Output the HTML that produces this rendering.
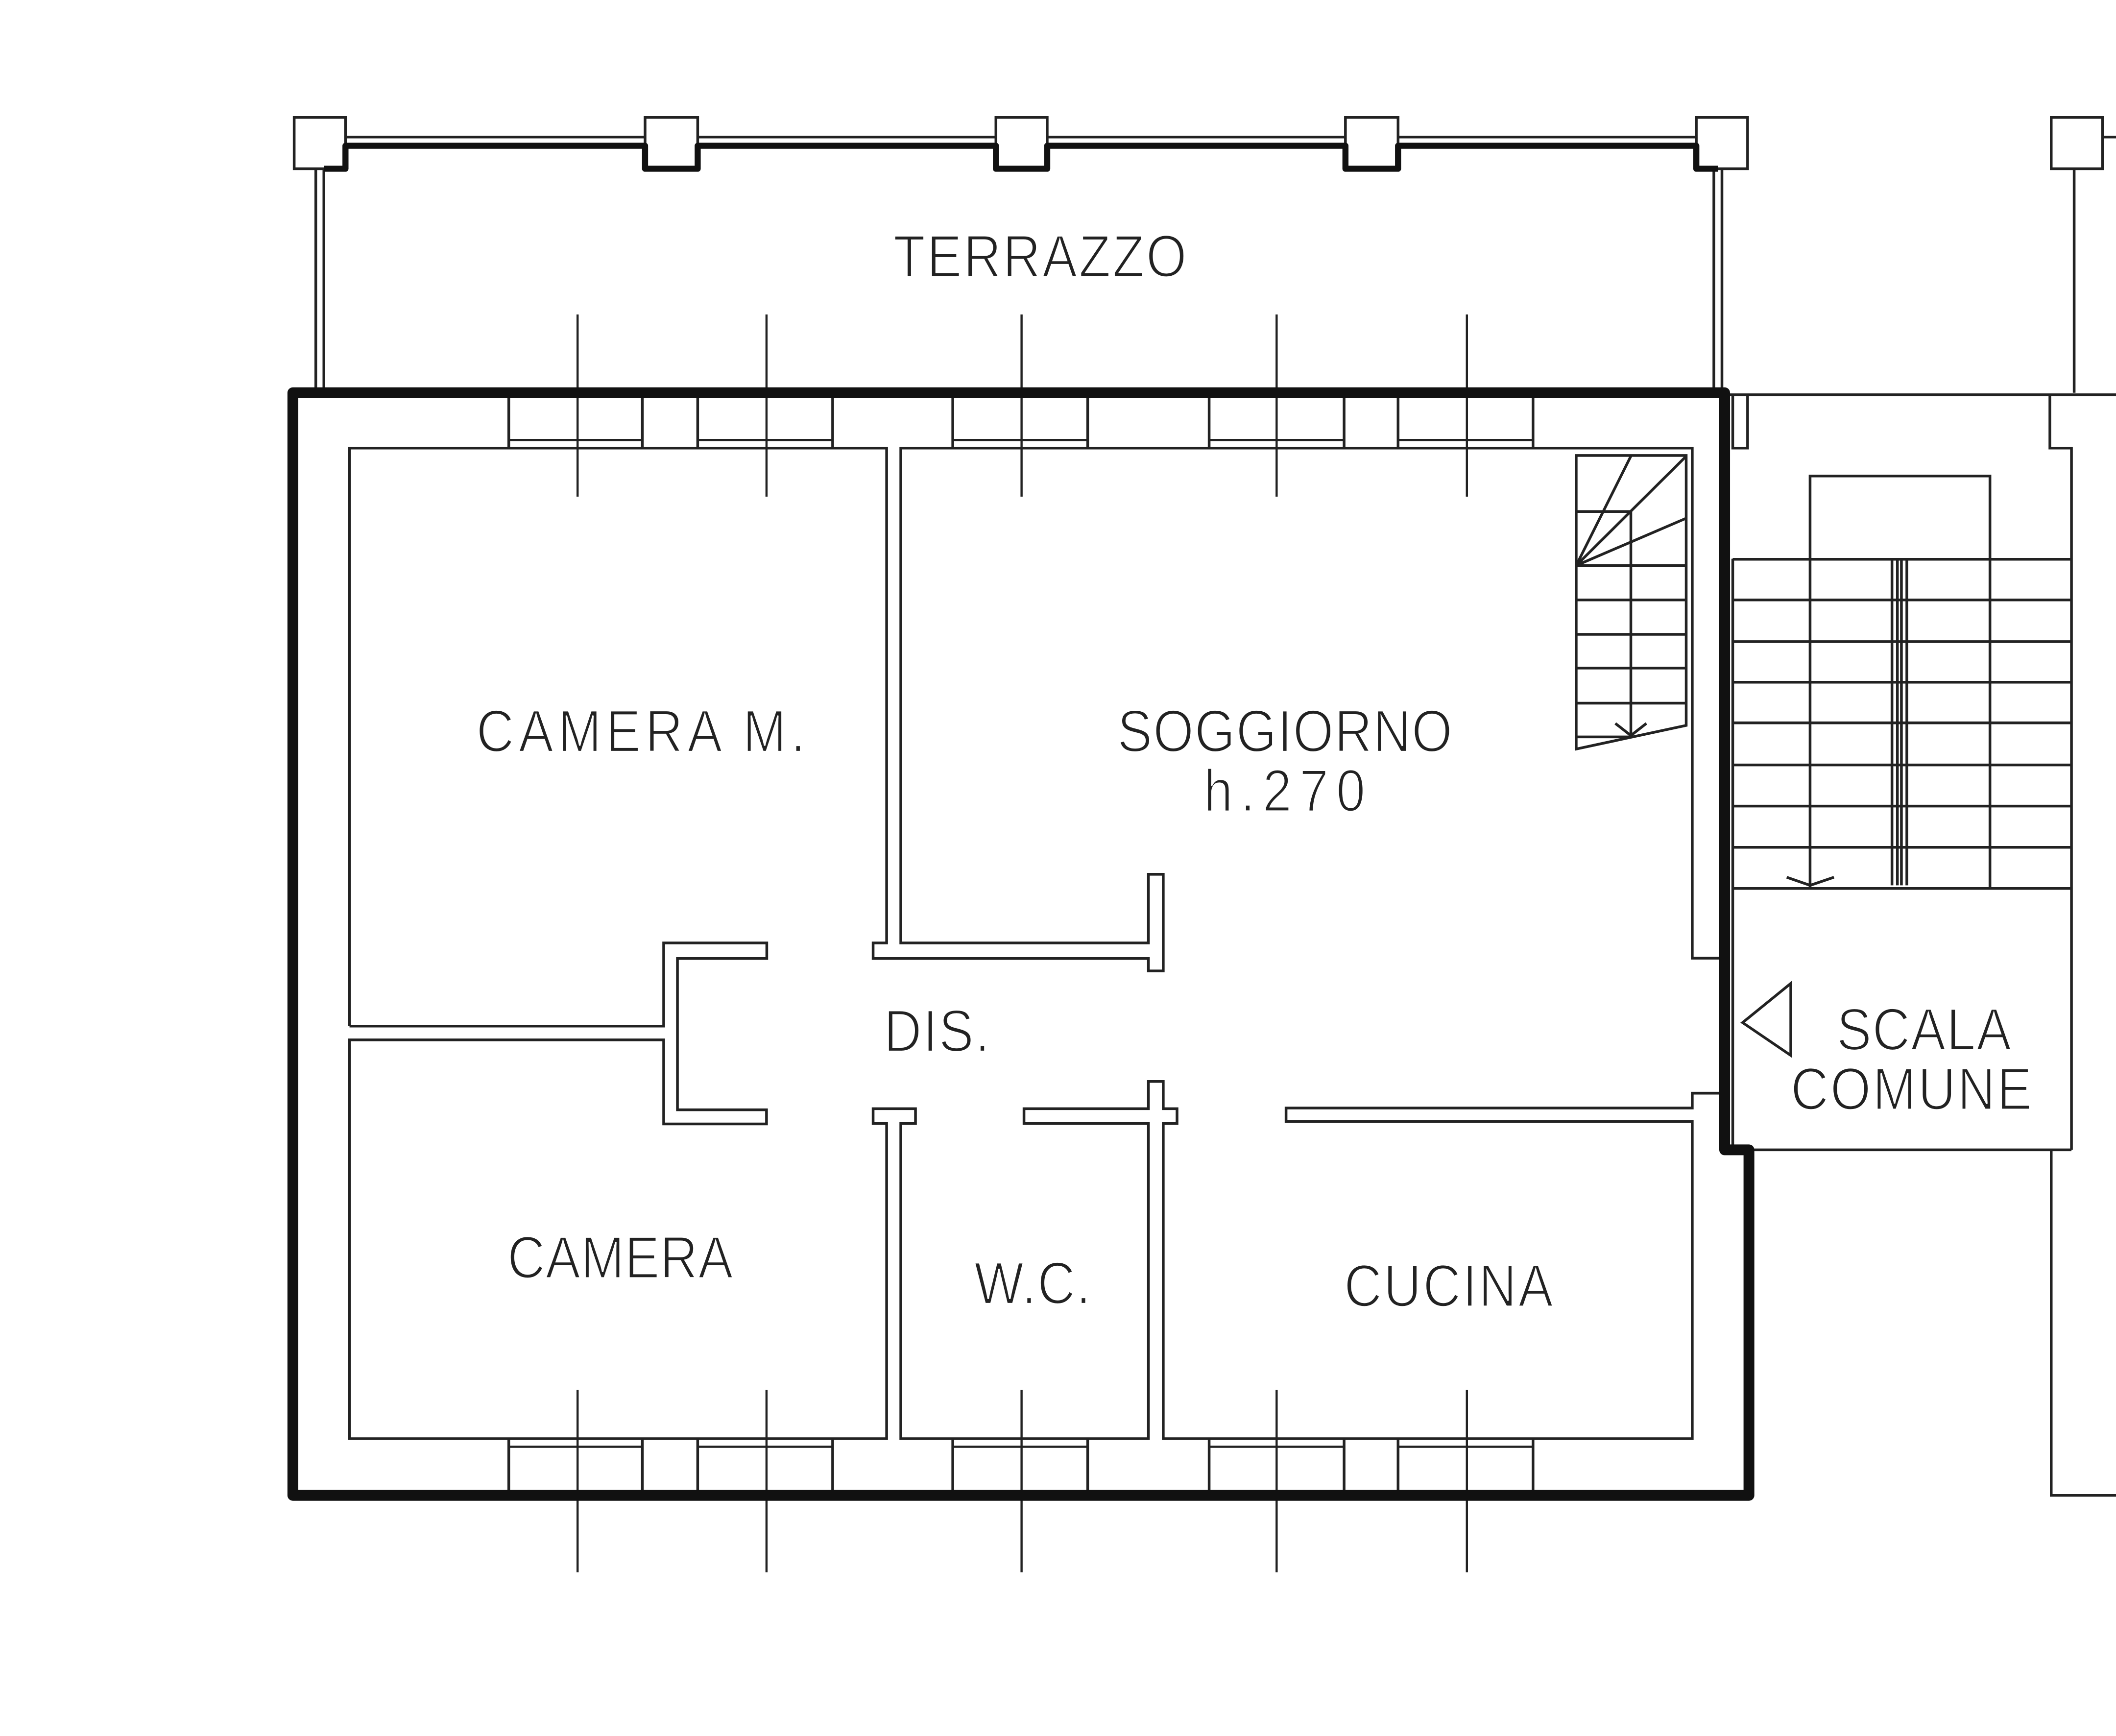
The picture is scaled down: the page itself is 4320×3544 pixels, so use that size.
<!DOCTYPE html>
<html><head><meta charset="utf-8"><style>html,body{margin:0;padding:0;background:#fff}svg{display:block}</style></head>
<body>
<svg width="4320" height="3544" viewBox="0 0 1568 1286.3" xmlns="http://www.w3.org/2000/svg">
<rect x="0" y="0" width="1568" height="1287" fill="#fff"/>
<g fill="none" stroke="#222" stroke-width="2" stroke-linejoin="miter">
<rect x="218" y="87" width="38" height="38"/>
<rect x="478" y="87" width="39" height="38"/>
<rect x="738" y="87" width="38" height="38"/>
<rect x="997" y="87" width="39" height="38"/>
<rect x="1257" y="87" width="38" height="38"/>
<rect x="1520" y="87" width="38" height="38"/>
<path d="M256,101.5H478M517,101.5H738M776,101.5H997M1036,101.5H1257M1558,101.5H1568"/>
<path d="M234,125V291M240,125V291M1270,125V291M1276,125V291M1537,125V291"/>
<path stroke-width="1.6" d="M428,233V368M568,233V368M757,233V368M946,233V368M1087,233V368M428,1030V1165M568,1030V1165M757,1030V1165M946,1030V1165M1087,1030V1165"/>
<path d="M377,291V332M476,291V332M517,291V332M617,291V332M706,291V332M806,291V332M896,291V332M996,291V332M1036,291V332M1136,291V332
M377,1066V1108M476,1066V1108M517,1066V1108M617,1066V1108M706,1066V1108M806,1066V1108M896,1066V1108M996,1066V1108M1036,1066V1108M1136,1066V1108"/>
<path stroke-width="1.6" d="M377,326H476M517,326H617M706,326H806M896,326H996M1036,326H1136M377,1072H476M517,1072H617M706,1072H806M896,1072H996M1036,1072H1136"/>
<path d="M259,760.3V332H657V698.7H647V710.2H851V719.4H862V647.8H851V698.7H667.5V332H1254V710H1276"/>
<path d="M259,760.3H491.8V698.7H568.2V710.2H502V822.3H568V832.8H491.8V770.5H259V1066H657V832.5H647V821.5H678.4V832.5H667.5V1066H851V832.5H758.8V821.5H851V801.3H862V821.5H872.2V832.5H862V1066H1254V831H953V821H1254V810H1276"/>
<path d="M1168,337.5H1249.5V537.5L1168,555Z"/>
<path d="M1168,379H1208.5M1208.5,379V545M1168,419H1249.5M1168,444.5H1249.5M1168,470H1249.5M1168,495H1249.5M1168,521H1249.5M1168,546H1208.5
M1168,419L1208.5,338M1168,419L1249.5,338M1168,419L1249.5,384M1197,536L1208.5,545L1220,536"/>
<path d="M1280,292.5H1568M1284,292V332H1295V292M1519,292V332H1535V852M1284,414V852H1535M1520,852V1108H1568"/>
<path d="M1284,414.4H1535M1284,444.5H1535M1284,475.4H1535M1284,505.5H1535M1284,535.6H1535M1284,566.8H1535M1284,597.3H1535M1284,627.8H1535M1284,658.3H1535
M1341.3,658V352.7H1474.6V658M1402,414V656M1413,414V656M1406,414V656M1409,414V656M1324,650L1341.3,656L1359,650"/>
<path d="M1327,728.7L1291.3,757.7L1327,782Z"/>
</g>
<path d="M217,291H1278V852H1296V1108H217Z" fill="none" stroke="#111" stroke-width="8" stroke-linejoin="round"/>
<path d="M240,125H256V108H478V125H517V108H738V125H776V108H997V125H1036V108H1257V125H1273" fill="none" stroke="#111" stroke-width="4.5" stroke-linejoin="round"/>
<g fill="#222" stroke="#fff" stroke-width="1.2" font-family="'Liberation Sans', sans-serif" font-size="44">
<text transform="translate(662,205) scale(0.88,1)" textLength="247" lengthAdjust="spacing">TERRAZZO</text>
<text transform="translate(353,557) scale(0.88,1)" textLength="277" lengthAdjust="spacing">CAMERA  M.</text>
<text transform="translate(828,557) scale(0.88,1)" textLength="282" lengthAdjust="spacing">SOGGIORNO</text>
<text transform="translate(892,601) scale(0.88,1)" textLength="136" lengthAdjust="spacing">h.270</text>
<text transform="translate(655,779) scale(0.88,1)" textLength="89" lengthAdjust="spacing">DIS.</text>
<text transform="translate(376,947) scale(0.88,1)" textLength="190" lengthAdjust="spacing">CAMERA</text>
<text transform="translate(722,966) scale(0.88,1)" textLength="98" lengthAdjust="spacing">W.C.</text>
<text transform="translate(996,968) scale(0.88,1)" textLength="176" lengthAdjust="spacing">CUCINA</text>
<text transform="translate(1361,778) scale(0.88,1)" textLength="147" lengthAdjust="spacing">SCALA</text>
<text transform="translate(1327,822) scale(0.88,1)" textLength="203" lengthAdjust="spacing">COMUNE</text>
</g>
</svg>
</body></html>
